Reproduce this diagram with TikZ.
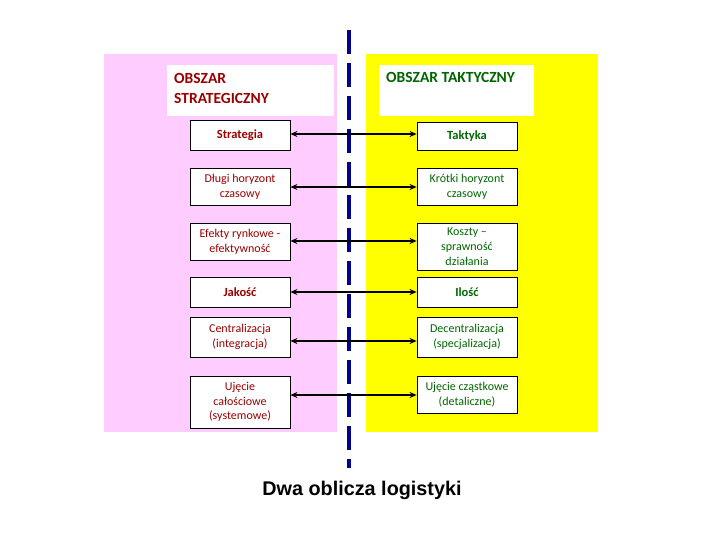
\documentclass[tikz,border=0pt]{standalone}
\usepackage{fontspec}
\setmainfont{Carlito}
\newfontfamily\titlefont{Liberation Sans}
\usetikzlibrary{arrows.meta}
\definecolor{pinkbg}{RGB}{255,204,255}
\definecolor{yellowbg}{RGB}{255,255,0}
\definecolor{navy}{RGB}{0,0,145}
\definecolor{txtred}{RGB}{153,0,0}
\definecolor{txtgreen}{RGB}{0,102,0}
\tikzset{
  box/.style={draw=black, line width=0.8pt, fill=white, minimum width=100pt, align=center, inner sep=1pt, font=\fontsize{12}{14.8}\selectfont},
  lbox/.style={box, text=txtred},
  rbox/.style={box, text=txtgreen},
  boldbox/.style={font=\bfseries\fontsize{12.5}{15}\selectfont},
  link/.style={line width=2pt, {Stealth[length=7pt,width=6pt]}-{Stealth[length=7pt,width=6pt]}},
  headbox/.style={fill=white, draw=none, inner sep=0pt, anchor=north west},
  headtext/.style={anchor=north west, align=left, inner sep=0pt, font=\bfseries\fontsize{15.5}{20.5}\selectfont}
}
\begin{document}
\begin{tikzpicture}[x=1pt,y=-1pt]
\useasboundingbox (0,0) rectangle (720,540);
\fill[pinkbg] (104,54) rectangle (337,432);
\fill[yellowbg] (366,54) rectangle (598,432);
\draw[navy, line width=3.5pt, dash pattern=on 24pt off 9pt] (349,30) -- (349,468);
% headers
\node[headbox, minimum width=167pt, minimum height=51pt] (hl) at (167,65) {};
\node[headbox, minimum width=155pt, minimum height=51pt] (hr) at (379,65) {};
\node[headtext, text=txtred] (hlt) at (174,73) {OBSZAR\\STRATEGICZNY};
\node[headtext, text=txtgreen] (hrt) at (386,72) {OBSZAR TAKTYCZNY};
% left boxes
\node[lbox, boldbox, minimum height=30pt] (l1) at (240,135) {Strategia};
\node[lbox, minimum height=37pt] (l2) at (240,186.5) {Długi horyzont\\czasowy};
\node[lbox, minimum height=37pt] (l3) at (240,241.5) {Efekty rynkowe -\\efektywność};
\node[lbox, boldbox, minimum height=30pt] (l4) at (240,292) {Jakość};
\node[lbox, minimum height=40pt] (l5) at (240,337) {Centralizacja\\(integracja)};
\node[lbox, minimum height=52pt] (l6) at (240,402) {Ujęcie\\całościowe\\(systemowe)};
% right boxes
\node[rbox, boldbox, minimum height=28pt] (r1) at (467,136) {Taktyka};
\node[rbox, minimum height=37pt] (r2) at (467,186.5) {Krótki horyzont\\czasowy};
\node[rbox, minimum height=47pt] (r3) at (467,246.5) {Koszty –\\sprawność\\działania};
\node[rbox, boldbox, minimum height=30pt] (r4) at (467,292) {Ilość};
\node[rbox, minimum height=40pt] (r5) at (467,337) {Decentralizacja\\(specjalizacja)};
\node[rbox, minimum height=37pt] (r6) at (467,394.5) {Ujęcie cząstkowe\\(detaliczne)};
% links
\draw[link] (l1.east |- 0,134) -- (r1.west |- 0,134);
\draw[link] (l2.east |- 0,187) -- (r2.west |- 0,187);
\draw[link] (l3.east |- 0,241) -- (r3.west |- 0,241);
\draw[link] (l4.east |- 0,292) -- (r4.west |- 0,292);
\draw[link] (l5.east |- 0,341) -- (r5.west |- 0,341);
\draw[link] (l6.east |- 0,395) -- (r6.west |- 0,395);
% title
\node[font=\titlefont\bfseries\fontsize{19.8}{22}\selectfont] (title) at (362,490) {Dwa oblicza logistyki};
\end{tikzpicture}
\end{document}
